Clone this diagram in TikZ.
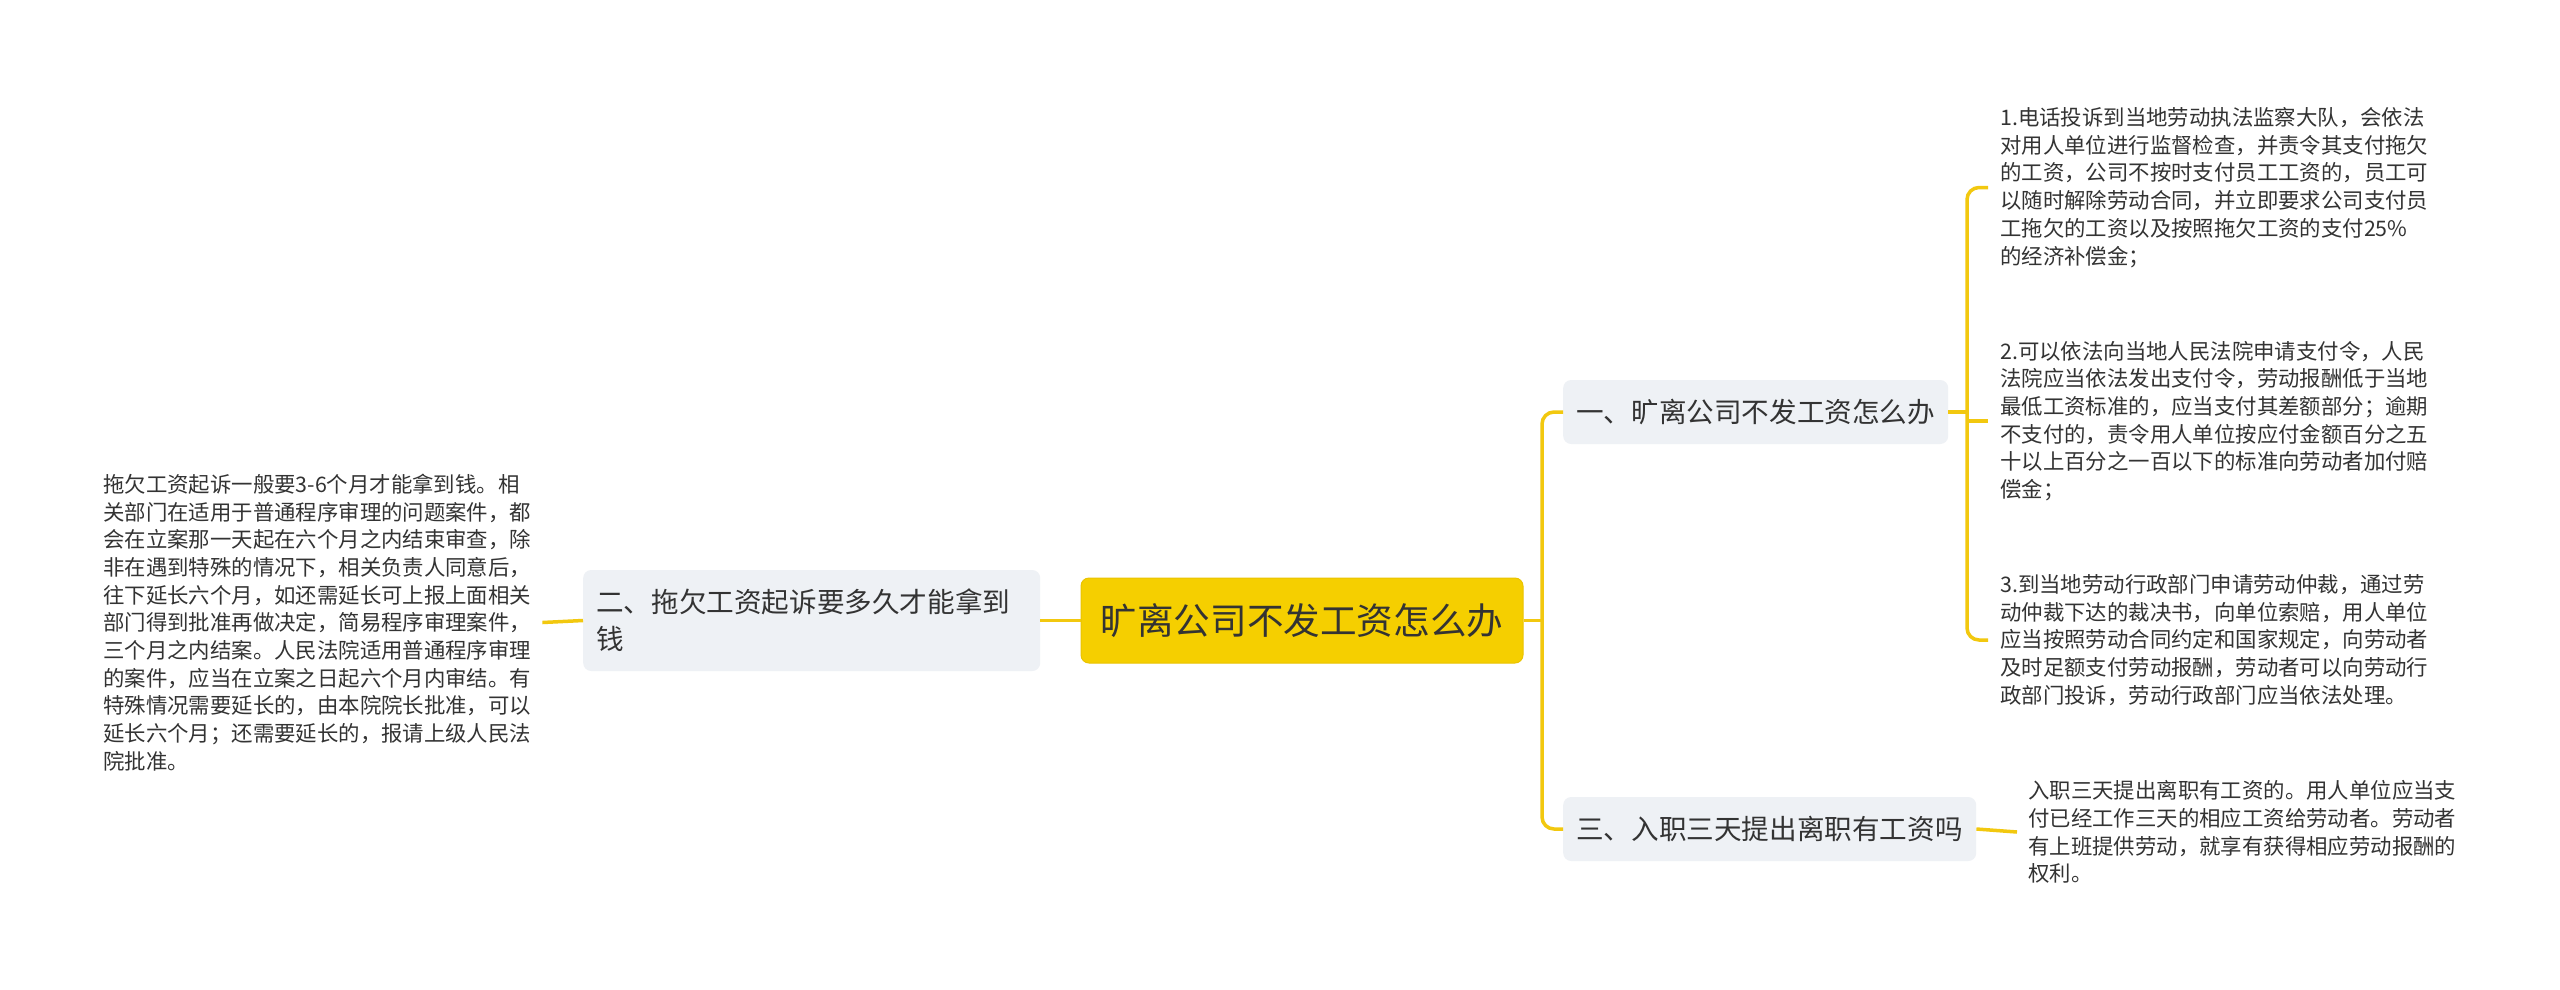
\documentclass[tikz,border=0pt]{standalone}
\usepackage{fontspec}
\setmainfont{Noto Sans CJK SC}
\definecolor{conncol}{HTML}{F2C80F}
\definecolor{cfill}{HTML}{F5CF00}
\definecolor{cborder}{HTML}{EAC300}
\definecolor{sfill}{HTML}{EEF1F5}
\definecolor{txt}{HTML}{333333}
\begin{document}
\begin{tikzpicture}[x=1pt,y=-1pt,
  connector/.style={draw=conncol, line width=3.5pt},
  central/.style={fill=cfill, draw=cborder, line width=1pt, rounded corners=8pt,
    minimum width=442pt, minimum height=85pt, inner sep=0pt, text=txt,
    font=\fontsize{36.6}{44}\selectfont},
  subnode/.style={fill=sfill, rounded corners=8pt, inner xsep=13pt, inner ysep=0pt,
    align=left, anchor=west, text=txt, font=\fontsize{27.6}{37}\selectfont},
  leaf/.style={inner xsep=12pt, inner ysep=0pt, align=left, anchor=west, text=txt,
    font=\fontsize{21.4}{27.7}\selectfont}
]
\useasboundingbox (0,0) rectangle (2560,989);
\fill[white] (0,0) rectangle (2560,989);

\node[central] (c) at (1302,620.5) {旷离公司不发工资怎么办};

\node[subnode, minimum height=64pt, text width=359pt] (n1) at (1563,412) {一、旷离公司不发工资怎么办};
\node[subnode, minimum height=64pt, text width=387pt] (n3) at (1563,829) {三、入职三天提出离职有工资吗};
\node[subnode, minimum height=101pt, text width=431pt] (n2) at (583,620.5) {二、拖欠工资起诉要多久才能拿到\\钱};

\node[leaf] (l1) at (1988,187.5) {1.电话投诉到当地劳动执法监察大队，会依法\\对用人单位进行监督检查，并责令其支付拖欠\\的工资，公司不按时支付员工工资的，员工可\\以随时解除劳动合同，并立即要求公司支付员\\工拖欠的工资以及按照拖欠工资的支付25\%\\的经济补偿金；};
\node[leaf] (l2) at (1988,421) {2.可以依法向当地人民法院申请支付令，人民\\法院应当依法发出支付令，劳动报酬低于当地\\最低工资标准的，应当支付其差额部分；逾期\\不支付的，责令用人单位按应付金额百分之五\\十以上百分之一百以下的标准向劳动者加付赔\\偿金；};
\node[leaf] (l3) at (1988,640) {3.到当地劳动行政部门申请劳动仲裁，通过劳\\动仲裁下达的裁决书，向单位索赔，用人单位\\应当按照劳动合同约定和国家规定，向劳动者\\及时足额支付劳动报酬，劳动者可以向劳动行\\政部门投诉，劳动行政部门应当依法处理。};
\node[leaf, inner xsep=11pt] (l4) at (2017,832) {入职三天提出离职有工资的。用人单位应当支\\付已经工作三天的相应工资给劳动者。劳动者\\有上班提供劳动，就享有获得相应劳动报酬的\\权利。};
\node[leaf, inner xsep=11pt] (ll) at (92,622.5) {拖欠工资起诉一般要3-6个月才能拿到钱。相\\关部门在适用于普通程序审理的问题案件，都\\会在立案那一天起在六个月之内结束审查，除\\非在遇到特殊的情况下，相关负责人同意后，\\往下延长六个月，如还需延长可上报上面相关\\部门得到批准再做决定，简易程序审理案件，\\三个月之内结案。人民法院适用普通程序审理\\的案件，应当在立案之日起六个月内审结。有\\特殊情况需要延长的，由本院院长批准，可以\\延长六个月；还需要延长的，报请上级人民法\\院批准。};

\coordinate (t) at (1542,620.5);
\coordinate (b) at (1967,412);

\draw[connector] (c.west) -- (n2.east);
\draw[connector] (n2.west) -- (ll.east);
\draw[connector] (c.east) -- (t);
\draw[connector, rounded corners=12pt] (n1.west) -| (t) |- (n3.west);
\draw[connector] (n1.east) -- (b);
\draw[connector, rounded corners=12pt] (l1.west) -| (b) |- (l3.west);
\draw[connector] (b |- l2.west) -- (l2.west);
\draw[connector] (n3.east) -- (l4.west);
\end{tikzpicture}
\end{document}
